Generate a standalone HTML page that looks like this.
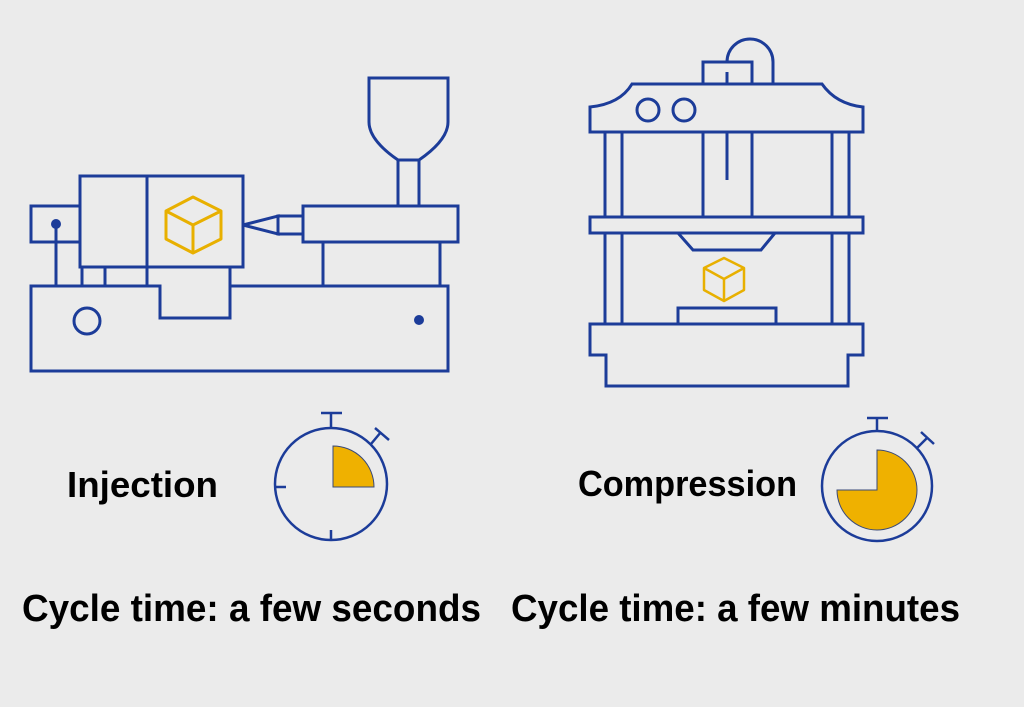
<!DOCTYPE html>
<html><head><meta charset="utf-8"><style>
html,body{margin:0;padding:0;background:#ebebeb;}
svg{display:block}
text{font-family:"Liberation Sans",sans-serif;font-weight:bold;fill:#000}
</style></head><body>
<svg width="1024" height="707" viewBox="0 0 1024 707" xmlns="http://www.w3.org/2000/svg">
<rect width="1024" height="707" fill="#ebebeb"/>
<g fill="none" stroke="#1c3c99" stroke-width="3" stroke-linejoin="miter">
  <!-- Injection machine -->
  <rect x="31" y="206" width="49" height="36"/>
  <rect x="80" y="176" width="163" height="91"/>
  <line x1="147" y1="176" x2="147" y2="286"/>
  <line x1="56" y1="224" x2="56" y2="286"/>
  <line x1="82" y1="267" x2="82" y2="286"/>
  <line x1="105" y1="267" x2="105" y2="286"/>
  <path d="M230 267 V318 H160 V286 H31 V371 H448 V286 H230"/>
  <path d="M243 225 L278 216 V234 Z"/>
  <rect x="278" y="216" width="25" height="18"/>
  <rect x="303" y="206" width="155" height="36"/>
  <line x1="323" y1="242" x2="323" y2="286"/>
  <line x1="440" y1="242" x2="440" y2="286"/>
  <path d="M398 206 V160 H419 V206"/>
  <path d="M398 160 Q369 140 369 122 V78 H448 V122 Q448 140 419 160"/>
  <circle cx="87" cy="321" r="13"/>
  <!-- Press -->
  <path d="M590 107 Q620 104 632 84 H822 Q836 104 863 107 V132 H590 Z"/>
  <circle cx="648" cy="110" r="11"/>
  <circle cx="684" cy="110" r="11"/>
  <rect x="703" y="62" width="49" height="22"/>
  <path d="M727 62 A23 23 0 0 1 773 62 V84"/>
  <line x1="727" y1="72" x2="727" y2="84"/>
  <path d="M703 132 V217 M752 132 V217"/>
  <line x1="727" y1="132" x2="727" y2="180"/>
  <path d="M605 132 V324 M622 132 V324 M832 132 V324 M849 132 V324"/>
  <rect x="590" y="217" width="273" height="16" fill="#ebebeb"/>
  <path d="M678 233 L693 250 H761 L775 233"/>
  <rect x="678" y="308" width="98" height="16"/>
  <path d="M590 324 H863 V355 H848 V386 H606 V355 H590 Z"/>
  <!-- Left stopwatch -->
  <circle cx="331" cy="484" r="56" stroke-width="2.5"/>
  <path d="M331 428 V413 M321 413 H342" stroke-width="2.5"/>
  <path d="M371 444 L381 432 M375 428 L389 440" stroke-width="2.5"/>
  <path d="M275 487 H286 M331 530 V541" stroke-width="2.5"/>
  <!-- Right stopwatch -->
  <circle cx="877" cy="486" r="55" stroke-width="2.5"/>
  <path d="M877 431 V418 M867 418 H888" stroke-width="2.5"/>
  <path d="M917 448 L928 437 M921 432 L934 444" stroke-width="2.5"/>
</g>
<g fill="#efb100" stroke="#3a4a7a" stroke-width="1">
  <path d="M333 487 V446 A41 41 0 0 1 374 487 Z"/>
  <path d="M877 490 V450 A40 40 0 1 1 837 490 Z"/>
</g>
<circle cx="56" cy="224" r="5" fill="#1c3c99"/>
<circle cx="419" cy="320" r="5" fill="#1c3c99"/>
<g fill="none" stroke="#e8b000" stroke-width="3" stroke-linejoin="round">
  <path d="M193 197 L221 211 V239 L193 253 L166 239 V211 Z M166 211 L193 225 L221 211 M193 225 V253"/>
</g>
<g fill="none" stroke="#e8b000" stroke-width="2.5" stroke-linejoin="round">
  <path d="M724 258 L744 268 V290 L724 301 L704 290 V268 Z M704 268 L724 279 L744 268 M724 279 V301"/>
</g>
<text x="67" y="497" font-size="36" textLength="151" lengthAdjust="spacingAndGlyphs">Injection</text>
<text x="578" y="496" font-size="36" textLength="219" lengthAdjust="spacingAndGlyphs">Compression</text>
<text x="22" y="621" font-size="38" textLength="459" lengthAdjust="spacingAndGlyphs">Cycle time: a few seconds</text>
<text x="511" y="621" font-size="38" textLength="449" lengthAdjust="spacingAndGlyphs">Cycle time: a few minutes</text>
</svg>
</body></html>
